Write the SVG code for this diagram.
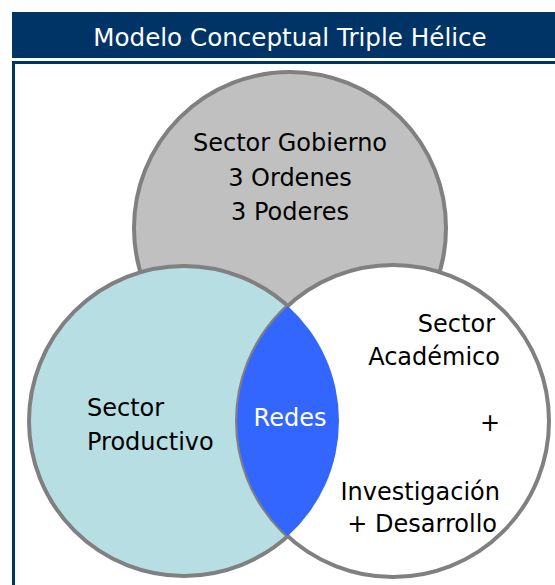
<svg xmlns="http://www.w3.org/2000/svg" width="555" height="585" viewBox="0 0 555 585">
<style>
.t{font-family:"DejaVu Sans","Liberation Sans",sans-serif;font-size:24px;fill:#000}
.c{stroke:#808080;stroke-width:4}
</style>
<rect width="555" height="585" fill="#fff"/>
<g id="header">
<rect x="12" y="12" width="560" height="46" fill="#003366"/>
<text x="290" y="46" class="t" text-anchor="middle" style="fill:#fff;font-size:24.6px">Modelo Conceptual Triple Hélice</text>
</g>
<g id="frame">
<rect x="13.5" y="62.5" width="560" height="560" fill="none" stroke="#003366" stroke-width="3"/>
</g>
<g id="gobierno">
<circle cx="290" cy="228" r="156" fill="#C0C0C0" class="c"/>
<text class="t" text-anchor="middle"><tspan x="290" y="151">Sector Gobierno</tspan><tspan x="290" y="186">3 Ordenes</tspan><tspan x="290" y="220">3 Poderes</tspan></text>
</g>
<g id="productivo">
<circle cx="184" cy="421" r="155" fill="#B7DEE3" class="c"/>
<text class="t"><tspan x="87" y="416">Sector</tspan><tspan x="87" y="450">Productivo</tspan></text>
</g>
<g id="academico">
<circle cx="393" cy="421" r="156" fill="#fff" class="c"/>
<text class="t" text-anchor="end"><tspan x="495" y="332">Sector</tspan><tspan x="500" y="365">Académico</tspan><tspan x="500" y="431">+</tspan><tspan x="500" y="500">Investigación</tspan><tspan x="497" y="532">+ Desarrollo</tspan></text>
</g>
<g id="redes">
<path d="M287.8,305.9 A155,155 0 0 1 287.8,536.1 A156,156 0 0 1 287.8,305.9 Z" fill="#3366FF"/>
<text x="290" y="426" class="t" text-anchor="middle" style="fill:#fff">Redes</text>
</g>
<g id="connectors"/>
</svg>
